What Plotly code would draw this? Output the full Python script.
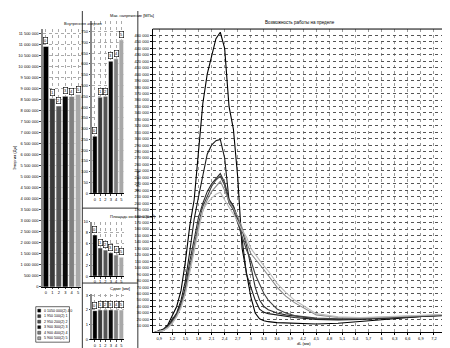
import plotly.graph_objects as go

W, H = 450, 348

# ---------------- data ----------------
samples = ["0", "1", "2", "3", "4", "5"]
bar_colors = ["#000000", "#3a3a3a", "#555555", "#0a0a0a", "#808080", "#a8a8a8"]

energy = [10900000, 8540000, 8200000, 8640000, 8630000, 8720000]
stress = [265, 446, 449, 613, 624, 712]
area = [7.6, 5.2, 4.8, 4.3, 3.9, 3.5]
shift = [1.95, 2.0, 2.0, 2.0, 2.0, 2.0]

legend_labels = ["0 1050 000(2) 4 0", "1 950 100(2) 1", "2 950 200(2) 2",
                 "3 900 300(2) 3", "4 900 400(2) 4", "5 900 500(2) 5"]

x_dl = [0.8, 0.9, 1.0, 1.1, 1.2, 1.3, 1.4, 1.5, 1.6, 1.7, 1.8, 1.9, 2.0, 2.1,
        2.2, 2.3, 2.4, 2.5, 2.6, 2.7, 2.8, 2.9, 3.0, 3.1, 3.2, 3.3, 3.4, 3.6,
        3.8, 4.0, 4.5, 5.0, 5.5, 6.0, 6.5, 7.0, 7.5]
f0 = [0, 2000, 5000, 12000, 25000, 40000, 65000, 110000, 165000, 205000, 280000,
      355000, 400000, 428000, 455000, 465000, 440000, 350000, 315000, 240000,
      130000, 92000, 55000, 30000, 21000, 18000, 16500, 15000, 14500, 13500,
      13000, 14000, 17000, 20000, 23000, 25000, 27000]
f1 = [0, 1500, 4000, 10000, 20000, 30000, 50000, 80000, 125000, 175000, 210000,
      245000, 276000, 290000, 297000, 299000, 270000, 205000, 195000, 175000,
      145000, 90000, 70000, 50000, 36000, 31000, 29000, 27000, 25000, 23000,
      20000, 19000, 20000, 21000, 23000, 25000, 26000]
f2 = [0, 1500, 4000, 9000, 18000, 28000, 45000, 70000, 110000, 145000, 178000,
      200000, 218000, 230000, 238000, 246000, 232000, 206000, 196000, 178000,
      158000, 135000, 105000, 70000, 50000, 40000, 35000, 30000, 27000, 25000,
      21000, 20000, 20500, 22000, 23500, 25000, 26500]
f3 = [0, 1000, 3000, 8000, 16000, 26000, 42000, 65000, 100000, 135000, 168000,
      195000, 212000, 226000, 236000, 242000, 228000, 200000, 190000, 170000,
      150000, 128000, 112000, 90000, 75000, 60000, 50000, 36000, 30000, 26000,
      22000, 21000, 21500, 22500, 24000, 25500, 27000]
f4 = [0, 1000, 3000, 8000, 15000, 25000, 40000, 62000, 95000, 130000, 163000,
      188000, 205000, 218000, 226000, 234000, 220000, 203000, 192000, 179000,
      162000, 140000, 122000, 114000, 105000, 97000, 88000, 70000, 56000, 46000,
      27000, 23000, 22000, 23000, 24500, 26000, 27500]
f5 = [0, 1000, 3000, 7000, 14000, 24000, 38000, 60000, 92000, 125000, 160000,
      190000, 200000, 208000, 214000, 217000, 205000, 194000, 185000, 172000,
      158000, 148000, 130000, 120000, 112000, 103000, 95000, 76000, 62000, 50000,
      29000, 24000, 23000, 24000, 25000, 26500, 28000]
curves = [f0, f1, f2, f3, f4, f5]
curve_colors = ["#000000", "#1a1a1a", "#2e2e2e", "#444444", "#8a8a8a", "#bdbdbd"]

main_yticks = list(range(10000, 470000, 10000))
main_xticks = [0.9, 1.2, 1.5, 1.8, 2.1, 2.4, 2.7, 3.0, 3.3, 3.6, 3.9, 4.2, 4.5,
               4.8, 5.1, 5.4, 5.7, 6.0, 6.3, 6.6, 6.9, 7.2, 7.5]
energy_ticks = list(range(0, 12000000, 500000))
stress_ticks = list(range(0, 800, 50))
area_ticks = [0, 2, 4, 6, 8, 10]
shift_ticks = [0, 1, 2, 3]


def sp(v):
    return f"{int(v):,}".replace(",", " ")


def dec(v):
    return f"{v:g}".replace(".", ",")


FONT = "Liberation Sans, Arial, sans-serif"
fig = go.Figure()

MX0, MX1, MY0, MY1 = 146, 443, 18.3, 326


def dom_x(a, b):
    return [a / W, b / W]


def dom_y(top, bottom):
    return [1 - bottom / H, 1 - top / H]


# ---------------- main chart ----------------
for i, f in enumerate(curves):
    fig.add_trace(go.Scatter(x=x_dl, y=f, mode="lines",
                             line=dict(color=curve_colors[i], width=1.1),
                             xaxis="x", yaxis="y", showlegend=False))

grid_common = dict(showgrid=True, griddash="dot", zeroline=False,
                   ticks="outside", ticklen=2, tickcolor="#000",
                   tickfont=dict(size=4, family=FONT, color="#000"))

fig.update_layout(
    xaxis=dict(domain=dom_x(MX0, MX1), range=[0.75, 7.5], anchor="y",
               tickvals=main_xticks, ticktext=[dec(v) for v in main_xticks],
               gridcolor="#9a9a9a", gridwidth=1, showline=True,
               linecolor="#000", linewidth=1, mirror=False, **grid_common),
    yaxis=dict(domain=dom_y(MY0, MY1), range=[0, 470000], anchor="x",
               tickvals=main_yticks, ticktext=[sp(v) for v in main_yticks],
               gridcolor="#555555", gridwidth=1, showline=True,
               linecolor="#000", linewidth=1, **grid_common),
)

# main axis titles
fig.add_annotation(x=126 / W, y=1 - 172 / H, xref="paper", yref="paper",
                   text="F (Ньютон)", textangle=-90, showarrow=False,
                   font=dict(size=4, family=FONT, color="#000"))
fig.add_annotation(x=290 / W, y=1 - 342 / H, xref="paper", yref="paper",
                   text="dL (мм)", showarrow=False, xanchor="left",
                   font=dict(size=4, family=FONT, color="#000"))

# ---------------- bar panels ----------------
panels = [
    ("x2", "y2", energy, dom_x(35, 74), dom_y(18, 280), [0, 11700000], energy_ticks,
     [sp(v) for v in energy_ticks], "Внутренняя энергия", "Энергия (Дж)"),
    ("x3", "y3", stress, dom_x(85, 117), dom_y(10, 185), [0, 800], stress_ticks,
     [str(v) for v in stress_ticks], "Мак. напряжение [МПа]", None),
    ("x4", "y4", area, dom_x(85, 117), dom_y(214, 269), [0, 10], area_ticks,
     [str(v) for v in area_ticks], "Площадь контакта (мм²)", None),
    ("x5", "y5", shift, dom_x(85, 117), dom_y(287, 333), [0, 3.1], shift_ticks,
     [str(v) for v in shift_ticks], "Сдвиг [мм]", None),
]

for (xa, ya, vals, dx, dy, yr, tv, tt, title, ytitle) in panels:
    fig.add_trace(go.Bar(x=samples, y=vals, marker=dict(color=bar_colors,
                         line=dict(width=0.5, color="#ffffff")),
                         xaxis=xa, yaxis=ya, showlegend=False, width=0.85))
    xk = "xaxis" + xa[1:]
    yk = "yaxis" + ya[1:]
    fig.layout[xk] = dict(domain=dx, anchor=ya, type="category",
                          showgrid=True, gridcolor="#aaaaaa", griddash="dot",
                          showline=True, linecolor="#000", linewidth=1,
                          ticks="outside", ticklen=1.5,
                          tickfont=dict(size=4, family=FONT, color="#000"))
    ylay = dict(domain=dy, anchor=xa, range=yr, tickvals=tv, ticktext=tt,
                showgrid=True, gridcolor="#aaaaaa", griddash="dot",
                showline=True, linecolor="#888", linewidth=2, zeroline=False,
                ticks="outside", ticklen=1.5,
                tickfont=dict(size=4, family=FONT, color="#000"))
    if ytitle:
        ylay["title"] = dict(text=ytitle, font=dict(size=4, family=FONT), standoff=2)
    fig.layout[yk] = ylay
    fig.add_annotation(x=(dx[0] + dx[1]) / 2, y=dy[1], xref="paper", yref="paper",
                       text=title, showarrow=False, yanchor="bottom", yshift=1,
                       font=dict(size=4, family=FONT, color="#000"))
    for i, v in enumerate(vals):
        fig.add_annotation(x=samples[i], y=v, xref=xa, yref=ya, text=samples[i],
                           showarrow=False, yanchor="bottom", yshift=2,
                           font=dict(size=4, family=FONT, color="#000"),
                           bgcolor="#ffffff", bordercolor="#000", borderwidth=0.6,
                           borderpad=0.5)

# main title
fig.add_annotation(x=(MX0 + MX1) / 2 / W, y=1 - MY0 / H, xref="paper", yref="paper",
                   text="Возможность работы на пределе", showarrow=False,
                   yanchor="bottom", yshift=2,
                   font=dict(size=4.5, family=FONT, color="#000"))

# manual legend box
lx0, ly0 = 28, 300
shapes = [dict(type="rect", xref="paper", yref="paper",
               x0=lx0 / W, x1=62 / W, y0=1 - 336 / H, y1=1 - ly0 / H,
               line=dict(color="#000", width=0.6), fillcolor="#fff")]
for i, lab in enumerate(legend_labels):
    yy = ly0 + 4 + i * 5.6
    shapes.append(dict(type="rect", xref="paper", yref="paper",
                       x0=(lx0 + 2) / W, x1=(lx0 + 5) / W,
                       y0=1 - (yy + 1.5) / H, y1=1 - (yy - 1.5) / H,
                       fillcolor=bar_colors[i], line=dict(color="#000", width=0.4)))
    fig.add_annotation(x=(lx0 + 6) / W, y=1 - yy / H, xref="paper", yref="paper",
                       text=lab, showarrow=False, xanchor="left", yanchor="middle",
                       font=dict(size=3.6, family=FONT, color="#000"))

# panel separator lines and main frame
for (x0, y0, x1, y1, c, w) in [(75, 0, 75, 348, "#000", 0.8),
                               (75, 200, 131, 200, "#000", 0.8),
                               (75, 276, 131, 276, "#000", 0.8),
                               (131, 0, 131, 348, "#000", 0.8),
                               (MX0, MY0, MX1, MY0, "#000", 1),
                               (MX1 + 0.5, MY0, MX1 + 0.5, MY1, "#888", 2)]:
    shapes.append(dict(type="line", xref="paper", yref="paper",
                       x0=x0 / W, x1=x1 / W, y0=1 - y0 / H, y1=1 - y1 / H,
                       line=dict(color=c, width=w)))

fig.update_layout(shapes=shapes, width=W, height=H,
                  margin=dict(l=0, r=0, t=0, b=0),
                  paper_bgcolor="#ffffff", plot_bgcolor="#ffffff",
                  bargap=0.1, showlegend=False,
                  font=dict(family=FONT, size=4, color="#000"))

fig.write_html("out.html")
